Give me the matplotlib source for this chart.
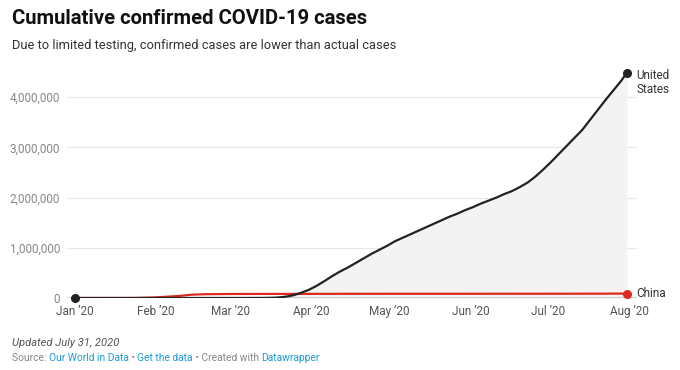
import matplotlib.pyplot as plt
import pandas as pd

plt.rcParams['font.family'] = ['Roboto', 'DejaVu Sans']

# данные: накопленные подтверждённые случаи, США
us_dates = ['2020-01-01', '2020-01-20', '2020-02-01', '2020-02-15', '2020-03-01',
            '2020-03-08', '2020-03-12', '2020-03-15', '2020-03-18', '2020-03-20',
            '2020-03-22', '2020-03-25', '2020-03-28', '2020-03-31', '2020-04-03',
            '2020-04-06', '2020-04-09', '2020-04-12', '2020-04-15', '2020-04-18',
            '2020-04-21', '2020-04-24', '2020-04-27', '2020-04-30', '2020-05-03',
            '2020-05-06', '2020-05-09', '2020-05-12', '2020-05-15', '2020-05-18',
            '2020-05-21', '2020-05-24', '2020-05-27', '2020-05-30', '2020-06-02',
            '2020-06-05', '2020-06-08', '2020-06-11', '2020-06-14', '2020-06-17',
            '2020-06-20', '2020-06-23', '2020-06-26', '2020-06-29', '2020-07-02',
            '2020-07-05', '2020-07-08', '2020-07-11', '2020-07-14', '2020-07-17',
            '2020-07-20', '2020-07-23', '2020-07-26', '2020-07-29', '2020-07-31']
us = [0, 1, 8, 15, 70,
      420, 1300, 2700, 7000, 15000,
      26000, 55000, 105000, 165000, 245000,
      340000, 440000, 530000, 610000, 700000,
      790000, 880000, 960000, 1040000, 1130000,
      1200000, 1270000, 1340000, 1410000, 1480000,
      1550000, 1620000, 1680000, 1750000, 1810000,
      1880000, 1940000, 2000000, 2070000, 2130000,
      2210000, 2300000, 2420000, 2560000, 2710000,
      2870000, 3030000, 3190000, 3350000, 3550000,
      3750000, 3950000, 4140000, 4330000, 4480000]

# Китай
china_dates = ['2020-01-01', '2020-01-10', '2020-01-20', '2020-01-25', '2020-02-01',
               '2020-02-05', '2020-02-10', '2020-02-15', '2020-02-20', '2020-02-25',
               '2020-03-01', '2020-03-15', '2020-04-01', '2020-04-17', '2020-05-01',
               '2020-06-01', '2020-07-01', '2020-07-20', '2020-07-31']
china = [27, 41, 291, 1975, 11791,
         24324, 40235, 66492, 75077, 77658,
         79968, 81003, 82300, 83400, 83960,
         84150, 84800, 86000, 87900]

yticks = [0, 1000000, 2000000, 3000000, 4000000]
month_ticks = ['2020-01-01', '2020-02-01', '2020-03-01', '2020-04-01',
               '2020-05-01', '2020-06-01', '2020-07-01', '2020-08-01']
month_labels = ['Jan ’20', 'Feb ’20', 'Mar ’20', 'Apr ’20',
                'May ’20', 'Jun ’20', 'Jul ’20', 'Aug ’20']

xu = pd.to_datetime(us_dates)
xc = pd.to_datetime(china_dates)
W, H = 680, 370
fig = plt.figure(figsize=(W / 100, H / 100), dpi=100)
ax = fig.add_axes([67 / W, (H - 298) / H, 570 / W, 233 / H])

red = '#dc2a1e'
dark = '#222222'

ax.fill_between(xu, 0, us, color='#f3f3f3', lw=0, zorder=1)
ax.plot(xc, china, color=red, lw=1.6, zorder=3, solid_capstyle='round')
ax.plot(xu, us, color=dark, lw=1.6, zorder=4, solid_capstyle='round')
ax.plot(xu[0], us[0], 'o', color=dark, ms=5.5, zorder=5, clip_on=False)
ax.plot(xu[-1], us[-1], 'o', color=dark, ms=5.5, zorder=5, clip_on=False)
ax.plot(xc[-1], china[-1], 'o', color=red, ms=5.5, zorder=5, clip_on=False)

ax.set_xlim(pd.Timestamp('2019-12-29'), pd.Timestamp('2020-08-04'))
ax.set_ylim(0, 4640000)

for t in yticks[1:]:
    ax.axhline(t, color='#e6e6e6', lw=0.8, zorder=0)
ax.axhline(0, color='#333333', lw=1.0, zorder=2)

ax.set_yticks(yticks)
ax.set_yticklabels([f'{v:,}' for v in yticks])
ax.set_xticks(pd.to_datetime(month_ticks))
ax.set_xticklabels(month_labels)
ax.tick_params(axis='y', length=0, pad=5, labelsize=8.5, labelcolor='#888888')
ax.tick_params(axis='x', length=0, pad=5, labelsize=8.5, labelcolor='#555555')
for s in ax.spines.values():
    s.set_visible(False)

ax.annotate('United\nStates', (xu[-1], us[-1]), xytext=(7, 3), textcoords='offset points',
            va='top', ha='left', fontsize=8.5, color='#333333', linespacing=1.1,
            annotation_clip=False)
ax.annotate('China', (xc[-1], china[-1]), xytext=(7, 0), textcoords='offset points',
            va='center', ha='left', fontsize=8.5, color='#333333', annotation_clip=False)

fig.text(12 / W, 1 - 18 / H, 'Cumulative confirmed COVID-19 cases', fontsize=14.6,
         fontweight='bold', va='center', ha='left', color='#111111')
fig.text(12 / W, 1 - 46 / H, 'Due to limited testing, confirmed cases are lower than actual cases',
         fontsize=9.3, va='center', ha='left', color='#333333')
fig.text(12 / W, 1 - 343 / H, 'Updated July 31, 2020', fontsize=8, style='italic',
         va='center', ha='left', color='#555555')

# строка источника с синими ссылками
parts = [('Source: ', '#888888'), ('Our World in Data', '#1a9bd1'), (' • ', '#888888'),
         ('Get the data', '#1a9bd1'), (' • Created with ', '#888888'), ('Datawrapper', '#1a9bd1')]
fig.canvas.draw()
xpos = 12 / W
for txt, col in parts:
    t = fig.text(xpos, 1 - 358 / H, txt, fontsize=7.4, va='center', ha='left', color=col)
    bb = t.get_window_extent(renderer=fig.canvas.get_renderer())
    xpos += bb.width / W

fig.savefig('out.png', dpi=100)
